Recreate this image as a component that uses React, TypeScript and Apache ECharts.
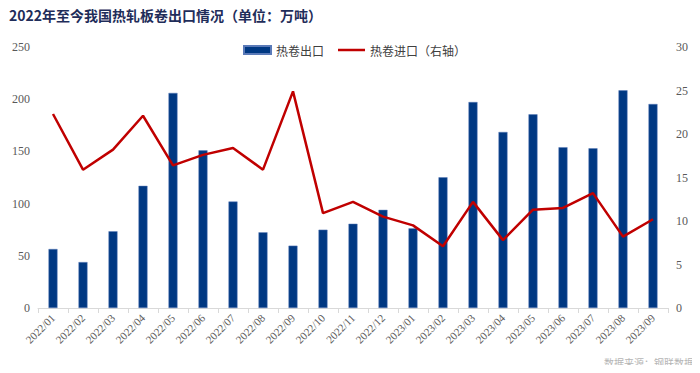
import React, { useEffect, useRef } from "react";
import * as echarts from "echarts";

const categories = [
  "2022/01", "2022/02", "2022/03", "2022/04", "2022/05", "2022/06", "2022/07",
  "2022/08", "2022/09", "2022/10", "2022/11", "2022/12", "2023/01", "2023/02",
  "2023/03", "2023/04", "2023/05", "2023/06", "2023/07", "2023/08", "2023/09",
];
const exportValues = [
  56.5, 44, 73.5, 117, 206, 151, 102, 72.5, 59.7, 75, 80.7, 94, 76.3, 125.2,
  197.3, 168.6, 185.5, 154, 153, 208.5, 195.4,
];
const importValues = [
  22.3, 15.9, 18.2, 22.1, 16.4, 17.6, 18.4, 15.9, 24.9, 10.9, 12.2, 10.5, 9.5,
  7.1, 12.2, 7.8, 11.3, 11.5, 13.2, 8.2, 10.2,
];
const titleText = "2022年至今我国热轧板卷出口情况（单位：万吨）";
const sourceText = "数据来源：钢联数据";
const exportName = "热卷出口";
const importName = "热卷进口（右轴）";

export default function App() {
  const ref = useRef<HTMLDivElement>(null);
  useEffect(() => {
    if (!ref.current) return;
    const chart = echarts.init(ref.current, null, { renderer: "svg" });
    const axisLabelFont = {
      fontFamily: "Liberation Serif",
      fontSize: 11,
      color: "#595959",
    };
    chart.setOption({
      animation: false,
      backgroundColor: "#fff",
      title: {
        text: titleText,
        left: 4,
        top: 3,
        textStyle: {
          fontFamily: "Noto Sans CJK SC",
          fontWeight: "bold",
          fontSize: 14,
          color: "#1f2d5a",
        },
      },
      graphic: [
        {
          type: "text",
          right: 6,
          bottom: 6,
          style: {
            text: sourceText,
            fontFamily: "Noto Sans CJK SC",
            fontSize: 10,
            fill: "#b5b5b5",
          },
        },
      ],
      legend: {
        top: 39,
        left: 238,
        itemGap: 14,
        itemWidth: 27,
        itemHeight: 8,
        textStyle: {
          fontFamily: "Noto Sans CJK SC",
          fontSize: 12,
          color: "#404040",
        },
        data: [
          { name: exportName, icon: "rect" },
          { name: importName, icon: "path://M0 0 H27 V2.5 H0 Z" },
        ],
      },
      grid: { left: 38, right: 32, top: 47, bottom: 65 },
      xAxis: {
        type: "category",
        data: categories,
        boundaryGap: true,
        axisLine: { lineStyle: { color: "#d9d9d9" } },
        axisTick: { show: true, alignWithLabel: false, lineStyle: { color: "#d9d9d9" } },
        axisLabel: { ...axisLabelFont, rotate: 45, interval: 0, margin: 8 },
      },
      yAxis: [
        {
          type: "value",
          min: 0,
          max: 250,
          interval: 50,
          splitLine: { show: false },
          axisLine: { show: false },
          axisTick: { show: false },
          axisLabel: { ...axisLabelFont, fontSize: 12, margin: 8 },
        },
        {
          type: "value",
          min: 0,
          max: 30,
          interval: 5,
          splitLine: { show: false },
          axisLine: { show: false },
          axisTick: { show: false },
          axisLabel: { ...axisLabelFont, fontSize: 12, margin: 8 },
        },
      ],
      series: [
        {
          name: exportName,
          type: "bar",
          data: exportValues,
          barWidth: 9,
          itemStyle: { color: "#003882", borderColor: "#5a7ab8", borderWidth: 0.5 },
          yAxisIndex: 0,
        },
        {
          name: importName,
          type: "line",
          data: importValues,
          yAxisIndex: 1,
          symbol: "none",
          lineStyle: { color: "#c00000", width: 2.5 },
          itemStyle: { color: "#c00000" },
        },
      ],
    });
    return () => chart.dispose();
  }, []);
  return <div ref={ref} style={{ width: 700, height: 373, margin: -8 }} />;
}
